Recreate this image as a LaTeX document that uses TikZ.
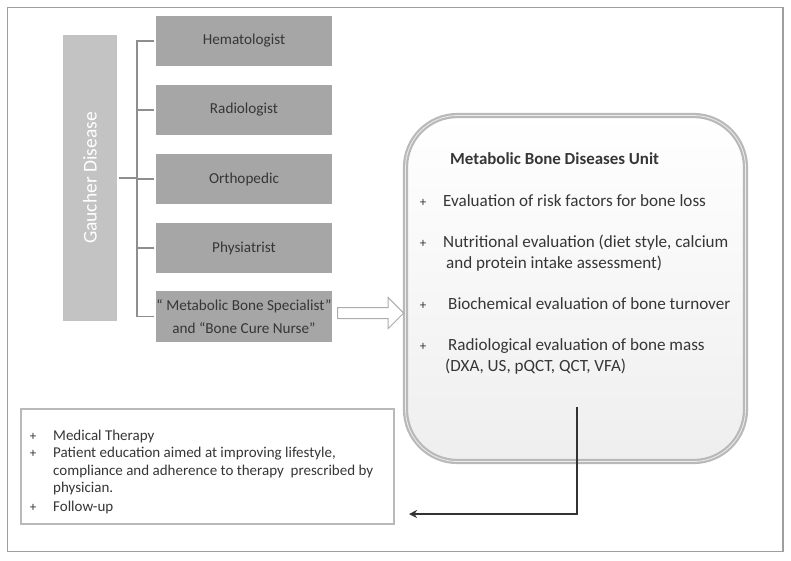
\documentclass[tikz,border=0pt]{standalone}
\usepackage{fontspec}
\setmainfont{Carlito}
\usetikzlibrary{shapes.arrows,arrows.meta,shadows}
\definecolor{boxgray}{HTML}{A6A6A6}
\definecolor{gdgray}{HTML}{C3C3C3}
\definecolor{txtgray}{HTML}{363636}
\definecolor{lngray}{HTML}{8E8E8E}
\begin{document}
\begin{tikzpicture}[x=1pt,y=-1pt,
  spec/.style={fill=boxgray, draw=white, line width=1.5pt, minimum width=178, minimum height=52,
    inner sep=0pt, text=txtgray, font=\fontsize{15.2}{23}\selectfont, align=center,
    drop shadow={opacity=0.25, shadow xshift=1pt, shadow yshift=-1.2pt}},
  gd/.style={fill=gdgray, draw=white, line width=1.5pt, minimum width=288, minimum height=56,
    inner sep=0pt, text=white, font=\fontsize{19.5}{22}\selectfont, rotate=90,
    drop shadow={opacity=0.25, shadow xshift=1pt, shadow yshift=-1.2pt}},
  tree/.style={draw=lngray, line width=1.6pt},
  ln/.style={anchor=west, inner sep=0pt, text=txtgray, text height=12pt, text depth=3.5pt, font=\fontsize{17.1}{19}\selectfont},
  lnb/.style={ln, text height=11pt, text depth=3pt, font=\fontsize{15}{17}\selectfont},
  bul/.style={anchor=center, inner sep=0pt, text=txtgray, font=\fontsize{13}{14}\selectfont},
  ]
\useasboundingbox (0,0) rectangle (791,560);
\draw[draw=gray!75, line width=1.2pt] (7.5,7.5) rectangle (783,551.5);

% Gaucher and specialists
\node[gd] (g) at (90,178) {Gaucher Disease};
\node[spec] (hem) at (244,41) {Hematologist};
\node[spec] (rad) at (244,110) {Radiologist};
\node[spec] (ort) at (244,179) {Orthopedic};
\node[spec] (phy) at (244,248) {Physiatrist};
\node[spec, minimum height=53] (mbs) at (244,316.5) {“ Metabolic Bone Specialist”\\and “Bone Cure Nurse”};
\coordinate (tr) at (137,178);
\draw[tree] (g.south) -- (tr);
\foreach \n in {hem,rad,ort,phy,mbs} \draw[tree] (\n.west) -| (tr);

% Metabolic Bone Diseases Unit
\node[draw=gray!55, line width=2.2pt, double=gray!15, double distance=0.8pt, rounded corners=52pt,
  top color=white, bottom color=gray!13, minimum width=340, minimum height=346, inner sep=0pt]
  (mbu) at (575.5,288.5) {};
\node[single arrow, draw=gray!65, line width=1pt, fill=white, minimum height=66, inner sep=5pt,
  single arrow head extend=10pt, anchor=tip] (ba) at (mbu.west |- 0,313) {};

\node[ln, font=\bfseries\fontsize{16.9}{19}\selectfont] (t0) at (450,160) {Metabolic Bone Diseases Unit};
\node[bul] (b1) at (423,203) {+};
\node[ln] (t1) at (443,202) {Evaluation of risk factors for bone loss};
\node[bul] (b2) at (423,244) {+};
\node[ln] (t2a) at (443,243) {Nutritional evaluation (diet style, calcium};
\node[ln] (t2b) at (446,264) {and protein intake assessment)};
\node[bul] (b3) at (423,306) {+};
\node[ln] (t3) at (448,305) {Biochemical evaluation of bone turnover};
\node[bul] (b4) at (423,347) {+};
\node[ln] (t4a) at (448,346) {Radiological evaluation of bone mass};
\node[ln] (t4b) at (445,367) {(DXA, US, pQCT, QCT, VFA)};

% Bottom box
\node[draw=gray!55, line width=1.5pt, fill=white, minimum width=373, minimum height=115, inner sep=0pt]
  (bt) at (207.5,466.5) {};
\node[bul] (c1) at (33,437) {+};
\node[lnb] (u1) at (53,436) {Medical Therapy};
\node[bul] (c2) at (33,454) {+};
\node[lnb] (u2a) at (53,453) {Patient education aimed at improving lifestyle,};
\node[lnb] (u2b) at (53,471) {compliance and adherence to therapy \ prescribed by};
\node[lnb] (u2c) at (53,488) {physician.};
\node[bul] (c3) at (33,508) {+};
\node[lnb] (u3) at (53,507) {Follow-up};

% Connector
\coordinate (cs) at (577,407);
\coordinate (ce) at (409,514);
\draw[draw=black!80, line width=1.6pt, -{Stealth[length=8pt,width=8pt,inset=2.5pt]}] (cs) |- (ce);
\end{tikzpicture}
\end{document}
